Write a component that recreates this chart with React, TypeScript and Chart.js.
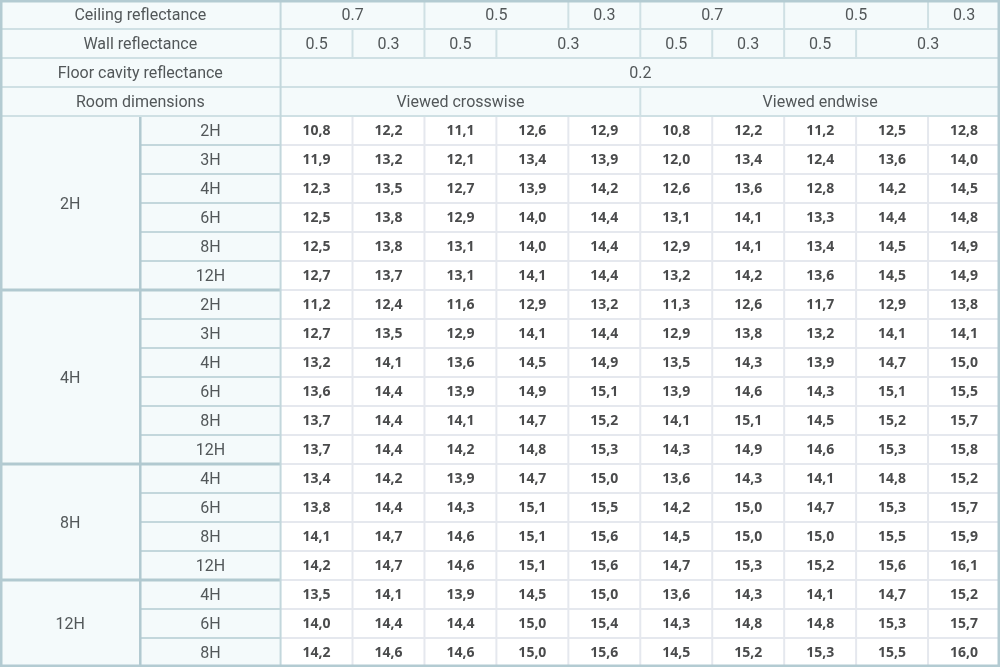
import React, { useEffect, useRef } from "react";
import { Chart, registerables } from "chart.js";

Chart.register(...registerables);

// ---- data ----
const headerTitles = ["Ceiling reflectance", "Wall reflectance", "Floor cavity reflectance", "Room dimensions"];
const ceilingLabels = ["0.7", "0.5", "0.3", "0.7", "0.5", "0.3"];
const ceilingSpans = [2, 2, 1, 2, 2, 1];
const wallLabels = ["0.5", "0.3", "0.5", "0.3", "0.5", "0.3", "0.5", "0.3"];
const wallSpans = [1, 1, 1, 2, 1, 1, 1, 2];
const floorLabels = ["0.2"];
const floorSpans = [10];
const viewLabels = ["Viewed crosswise", "Viewed endwise"];
const viewSpans = [5, 5];

const groups = ["2H", "4H", "8H", "12H"];
const subRows2H = ["2H", "3H", "4H", "6H", "8H", "12H"];
const subRows4H = ["2H", "3H", "4H", "6H", "8H", "12H"];
const subRows8H = ["4H", "6H", "8H", "12H"];
const subRows12H = ["4H", "6H", "8H"];

const values2H = [
  [10.8, 12.2, 11.1, 12.6, 12.9, 10.8, 12.2, 11.2, 12.5, 12.8],
  [11.9, 13.2, 12.1, 13.4, 13.9, 12.0, 13.4, 12.4, 13.6, 14.0],
  [12.3, 13.5, 12.7, 13.9, 14.2, 12.6, 13.6, 12.8, 14.2, 14.5],
  [12.5, 13.8, 12.9, 14.0, 14.4, 13.1, 14.1, 13.3, 14.4, 14.8],
  [12.5, 13.8, 13.1, 14.0, 14.4, 12.9, 14.1, 13.4, 14.5, 14.9],
  [12.7, 13.7, 13.1, 14.1, 14.4, 13.2, 14.2, 13.6, 14.5, 14.9],
];
const values4H = [
  [11.2, 12.4, 11.6, 12.9, 13.2, 11.3, 12.6, 11.7, 12.9, 13.8],
  [12.7, 13.5, 12.9, 14.1, 14.4, 12.9, 13.8, 13.2, 14.1, 14.1],
  [13.2, 14.1, 13.6, 14.5, 14.9, 13.5, 14.3, 13.9, 14.7, 15.0],
  [13.6, 14.4, 13.9, 14.9, 15.1, 13.9, 14.6, 14.3, 15.1, 15.5],
  [13.7, 14.4, 14.1, 14.7, 15.2, 14.1, 15.1, 14.5, 15.2, 15.7],
  [13.7, 14.4, 14.2, 14.8, 15.3, 14.3, 14.9, 14.6, 15.3, 15.8],
];
const values8H = [
  [13.4, 14.2, 13.9, 14.7, 15.0, 13.6, 14.3, 14.1, 14.8, 15.2],
  [13.8, 14.4, 14.3, 15.1, 15.5, 14.2, 15.0, 14.7, 15.3, 15.7],
  [14.1, 14.7, 14.6, 15.1, 15.6, 14.5, 15.0, 15.0, 15.5, 15.9],
  [14.2, 14.7, 14.6, 15.1, 15.6, 14.7, 15.3, 15.2, 15.6, 16.1],
];
const values12H = [
  [13.5, 14.1, 13.9, 14.5, 15.0, 13.6, 14.3, 14.1, 14.7, 15.2],
  [14.0, 14.4, 14.4, 15.0, 15.4, 14.3, 14.8, 14.8, 15.3, 15.7],
  [14.2, 14.6, 14.6, 15.0, 15.6, 14.5, 15.2, 15.3, 15.5, 16.0],
];

// ---- layout (grid units) ----
const LABEL_W = 1.95; // width of each of the two label columns, in data-column units
const DATA_X0 = LABEL_W * 2;
const N_COLS = 10;
const X_MAX = DATA_X0 + N_COLS;
const HEADER_ROWS = 4;

const subRows = [subRows2H, subRows4H, subRows8H, subRows12H];
const groupValues = [values2H, values4H, values8H, values12H];
const TOTAL_ROWS = HEADER_ROWS + subRows.reduce((a, r) => a + r.length, 0);

const fmt = (v: number) => v.toFixed(1).replace(".", ",");

// Build value points (cell centers in grid units)
const valuePoints: { x: number; y: number; v: number }[] = [];
{
  let row = HEADER_ROWS;
  groupValues.forEach((g) => {
    g.forEach((r) => {
      r.forEach((v, c) => valuePoints.push({ x: DATA_X0 + c + 0.5, y: row + 0.5, v }));
      row++;
    });
  });
}

const C = {
  headBg: "#f4fafb",
  cellBg: "#ffffff",
  frame: "#b3cbd2",
  headLine: "#cfe0e4",
  labelLine: "#c3d7dc",
  groupLine: "#b1c9d0",
  dataLine: "#e5e8ee",
  headText: "#525759",
  valText: "#4a4b4c",
};

const tablePlugin = {
  id: "tablePlugin",
  beforeDatasetsDraw(chart: any) {
    const { ctx } = chart;
    const xs = chart.scales.x;
    const ys = chart.scales.y;
    const X = (v: number) => xs.getPixelForValue(v);
    const Y = (v: number) => ys.getPixelForValue(v);
    ctx.save();
    // backgrounds
    ctx.fillStyle = C.headBg;
    ctx.fillRect(X(0), Y(0), X(X_MAX) - X(0), Y(TOTAL_ROWS) - Y(0));
    ctx.fillStyle = C.cellBg;
    ctx.fillRect(X(DATA_X0), Y(HEADER_ROWS), X(X_MAX) - X(DATA_X0), Y(TOTAL_ROWS) - Y(HEADER_ROWS));

    const line = (x1: number, y1: number, x2: number, y2: number, color: string, w: number) => {
      ctx.strokeStyle = color;
      ctx.lineWidth = w;
      ctx.beginPath();
      ctx.moveTo(X(x1), Y(y1));
      ctx.lineTo(X(x2), Y(y2));
      ctx.stroke();
    };

    // data grid
    for (let c = 1; c < N_COLS; c++) line(DATA_X0 + c, HEADER_ROWS, DATA_X0 + c, TOTAL_ROWS, C.dataLine, 2);
    for (let r = HEADER_ROWS + 1; r < TOTAL_ROWS; r++) line(DATA_X0, r, X_MAX, r, C.dataLine, 2);

    // label column grid
    let row = HEADER_ROWS;
    subRows.forEach((g, gi) => {
      for (let i = 1; i < g.length; i++) line(LABEL_W, row + i, DATA_X0, row + i, C.labelLine, 2);
      row += g.length;
      if (gi < subRows.length - 1) line(0, row, DATA_X0, row, C.groupLine, 3);
    });
    line(LABEL_W, HEADER_ROWS, LABEL_W, TOTAL_ROWS, C.groupLine, 2.5);

    // header grid
    for (let r = 1; r <= HEADER_ROWS; r++) line(0, r, X_MAX, r, C.headLine, 2);
    const spanSets = [ceilingSpans, wallSpans, floorSpans, viewSpans];
    spanSets.forEach((spans, r) => {
      let x = DATA_X0;
      spans.forEach((s, i) => {
        x += s;
        if (i < spans.length - 1) line(x, r, x, r + 1, C.headLine, 2);
      });
    });
    line(DATA_X0, 0, DATA_X0, TOTAL_ROWS, C.labelLine, 2);

    // header texts
    ctx.fillStyle = C.headText;
    ctx.textAlign = "center";
    ctx.textBaseline = "middle";
    ctx.font = "16px Roboto";
    headerTitles.forEach((t, r) => ctx.fillText(t, (X(0) + X(DATA_X0)) / 2, Y(r + 0.5) + 1.5));
    const labelSets = [ceilingLabels, wallLabels, floorLabels, viewLabels];
    labelSets.forEach((labels, r) => {
      let x = DATA_X0;
      labels.forEach((t, i) => {
        const s = spanSets[r][i];
        ctx.fillText(t, X(x + s / 2), Y(r + 0.5) + 1.5);
        x += s;
      });
    });
    // row labels
    row = HEADER_ROWS;
    subRows.forEach((g, gi) => {
      ctx.fillText(groups[gi], X(LABEL_W / 2), Y(row + g.length / 2) + 1.5);
      g.forEach((t, i) => ctx.fillText(t, X(LABEL_W * 1.5), Y(row + i + 0.5) + 1.5));
      row += g.length;
    });

    // outer frame
    ctx.strokeStyle = C.frame;
    ctx.lineWidth = 3.5;
    ctx.strokeRect(X(0) + 0.75, Y(0) + 0.75, X(X_MAX) - X(0) - 1.5, Y(TOTAL_ROWS) - Y(0) - 1.5);
    ctx.restore();
  },
  afterDatasetsDraw(chart: any) {
    const { ctx } = chart;
    const meta = chart.getDatasetMeta(0);
    ctx.save();
    ctx.fillStyle = C.valText;
    ctx.textAlign = "center";
    ctx.textBaseline = "middle";
    ctx.font = "bold 14px 'Open Sans'";
    meta.data.forEach((el: any, i: number) => {
      ctx.fillText(fmt(valuePoints[i].v), el.x, el.y + 1);
    });
    ctx.restore();
  },
};

export default function App() {
  const ref = useRef<HTMLCanvasElement>(null);
  useEffect(() => {
    document.body.style.margin = "0";
    const chart = new Chart(ref.current!, {
      type: "scatter",
      data: {
        datasets: [
          {
            data: valuePoints,
            pointRadius: 0,
            pointHoverRadius: 0,
            showLine: false,
          },
        ],
      },
      options: {
        animation: false,
        responsive: false,
        events: [],
        layout: { padding: { left: 0, right: 0, top: 0, bottom: 0 } },
        plugins: { legend: { display: false }, tooltip: { enabled: false } },
        scales: {
          x: { type: "linear", min: 0, max: X_MAX, display: false },
          y: { type: "linear", min: 0, max: TOTAL_ROWS, reverse: true, display: false },
        },
      },
      plugins: [tablePlugin],
    });
    return () => chart.destroy();
  }, []);
  return (
    <div style={{ width: 1000, height: 667 }}>
      <canvas ref={ref} width={1000} height={667} style={{ display: "block" }} />
    </div>
  );
}
